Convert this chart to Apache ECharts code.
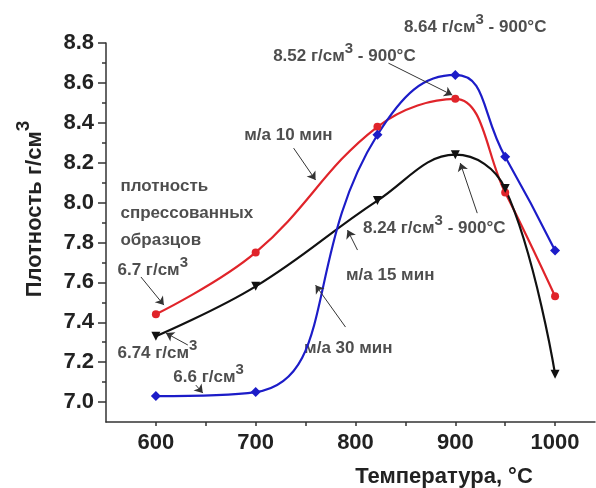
<!DOCTYPE html>
<html>
<head>
<meta charset="utf-8">
<script src="https://cdn.jsdelivr.net/npm/echarts@6/dist/echarts.min.js"></script>
<style>
html, body { margin: 0; background: #fff; }
#main { width: 596px; height: 488px; }
</style>
</head>
<body>
<div id="main"></div>
<script>
// данные
const temps = [600, 700, 822, 900, 950, 1000]
const ma10 = [7.44, 7.75, 8.38, 8.52, 8.05, 7.53]
const ma15 = [7.33, 7.58, 8.01, 8.24, 8.07, 7.14]
const ma30 = [7.03, 7.05, 8.34, 8.64, 8.23, 7.76]

const xTicks = [600, 700, 800, 900, 1000]
const xMinor = [650, 750, 850, 950]
const yTicks = [7.0, 7.2, 7.4, 7.6, 7.8, 8.0, 8.2, 8.4, 8.6, 8.8]
const yMinor = [7.1, 7.3, 7.5, 7.7, 7.9, 8.1, 8.3, 8.5, 8.7]

// подписи: [T, плотность, текст]
const notes = [
  [564, 7.945, 'плотность\nспрессованных\nобразцов'],
  [561, 7.662, '{t|6.7 г/см}{s|3}'],
  [561, 7.246, '{t|6.74 г/см}{s|3}'],
  [617, 7.125, '{t|6.6 г/см}{s|3}'],
  [688, 8.338, 'м/а 10 мин'],
  [717, 8.734, '{t|8.52 г/см}{s|3}{t| - 900°C}'],
  [848, 8.88, '{t|8.64 г/см}{s|3}{t| - 900°C}'],
  [807, 7.872, '{t|8.24 г/см}{s|3}{t| - 900°C}'],
  [790, 7.637, 'м/а 15 мин'],
  [748, 7.271, 'м/а 30 мин']
]
// стрелки: [T1, y1, T2, y2]
const arrows = [
  [585, 7.627, 608, 7.486],
  [632, 7.286, 610, 7.346],
  [640, 7.085, 647, 7.045],
  [738, 8.273, 760, 8.113],
  [833, 8.699, 897, 8.539],
  [952, 8.85, 907, 8.664],
  [922, 7.947, 905, 8.198],
  [802, 7.762, 792, 7.862],
  [790, 7.376, 760, 7.586]
]

const font = "'Liberation Sans', Arial, sans-serif"
const rich = {
  t: { fontSize: 17, fontWeight: 'bold', fontFamily: font, color: '#222', lineHeight: 24, verticalAlign: 'bottom' },
  s: { fontSize: 15, fontWeight: 'bold', fontFamily: font, color: '#222', lineHeight: 15, verticalAlign: 'top' }
}

function pairs(ys) {
  return temps.map((t, i) => [t, ys[i]])
}

let chart = echarts.init(document.getElementById('main'))
chart.setOption({
  animation: false,
  grid: { left: 106, top: 43, right: 1, bottom: 66 },
  xAxis: {
    type: 'value',
    min: 550,
    max: 1040,
    axisLine: { lineStyle: { color: '#333', width: 1.5 } },
    axisTick: { customValues: xTicks.concat(xMinor), length: 4, lineStyle: { color: '#333', width: 1.5 } },
    axisLabel: {
      customValues: xTicks,
      formatter: v => String(v),
      fontSize: 22, fontWeight: 'bold', fontFamily: font, color: '#222', margin: 10
    },
    splitLine: { show: false }
  },
  yAxis: [
    {
      type: 'value',
      min: 6.9,
      max: 8.8,
      axisLine: { show: true, lineStyle: { color: '#333', width: 1.5 } },
      axisTick: { show: true, customValues: yTicks, length: 8, lineStyle: { color: '#333', width: 1.5 } },
      axisLabel: {
        customValues: yTicks,
        formatter: v => v.toFixed(1),
        fontSize: 22, fontWeight: 'bold', fontFamily: font, color: '#222', margin: 12
      },
      splitLine: { show: false }
    },
    {
      type: 'value',
      min: 6.9,
      max: 8.8,
      position: 'left',
      axisLine: { show: false },
      axisTick: { show: true, customValues: yMinor, length: 4, lineStyle: { color: '#333', width: 1.5 } },
      axisLabel: { show: false },
      splitLine: { show: false }
    }
  ],
  graphic: [
    {
      type: 'text', x: 30, y: 209, rotation: Math.PI / 2,
      style: {
        text: '{t|Плотность г/см}{s|3}', align: 'center', verticalAlign: 'middle',
        rich: {
          t: { fontSize: 22, fontWeight: 'bold', fontFamily: font, fill: '#222', lineHeight: 32, verticalAlign: 'bottom' },
          s: { fontSize: 19, fontWeight: 'bold', fontFamily: font, fill: '#222', lineHeight: 19, verticalAlign: 'top' }
        }
      }
    },
    {
      type: 'text', x: 444, y: 477,
      style: {
        text: 'Температура, °C', align: 'center', verticalAlign: 'middle',
        font: "bold 22px 'Liberation Sans', Arial, sans-serif", fill: '#222'
      }
    }
  ],
  series: [
    {
      name: 'м/а 10 мин', type: 'line', smooth: 0.4,
      data: pairs(ma10),
      symbol: 'circle', symbolSize: 8,
      lineStyle: { color: '#e0242a', width: 2.2 },
      itemStyle: { color: '#e0242a' }
    },
    {
      name: 'м/а 15 мин', type: 'line', smooth: 0.4,
      data: pairs(ma15),
      symbol: 'triangle', symbolSize: 9, symbolRotate: 180,
      lineStyle: { color: '#111', width: 2.2 },
      itemStyle: { color: '#111' }
    },
    {
      name: 'м/а 30 мин', type: 'line', smooth: 0.5,
      data: pairs(ma30),
      symbol: 'diamond', symbolSize: 10,
      lineStyle: { color: '#1c1cc8', width: 2.2 },
      itemStyle: { color: '#1c1cc8' }
    },
    {
      name: 'подписи', type: 'scatter', clip: false, silent: true,
      symbolSize: 1,
      itemStyle: { color: 'rgba(0,0,0,0)' },
      data: notes.map(n => ({
        value: [n[0], n[1]],
        text: n[2],
        label: { offset: n[2].indexOf('{s|') >= 0 ? [0, -3] : [0, 0] }
      })),
      label: {
        show: true, position: 'right', distance: 0,
        formatter: p => p.data.text,
        fontSize: 17, fontWeight: 'bold', fontFamily: font, color: '#222', lineHeight: 27,
        rich: rich
      },
      markLine: {
        silent: true,
        symbol: ['none', 'arrow'],
        symbolSize: 8,
        label: { show: false },
        itemStyle: { color: '#333' },
        lineStyle: { color: '#333', width: 1, type: 'solid' },
        data: arrows.map(a => [{ coord: [a[0], a[1]] }, { coord: [a[2], a[3]] }])
      }
    }
  ]
})
</script>
</body>
</html>
